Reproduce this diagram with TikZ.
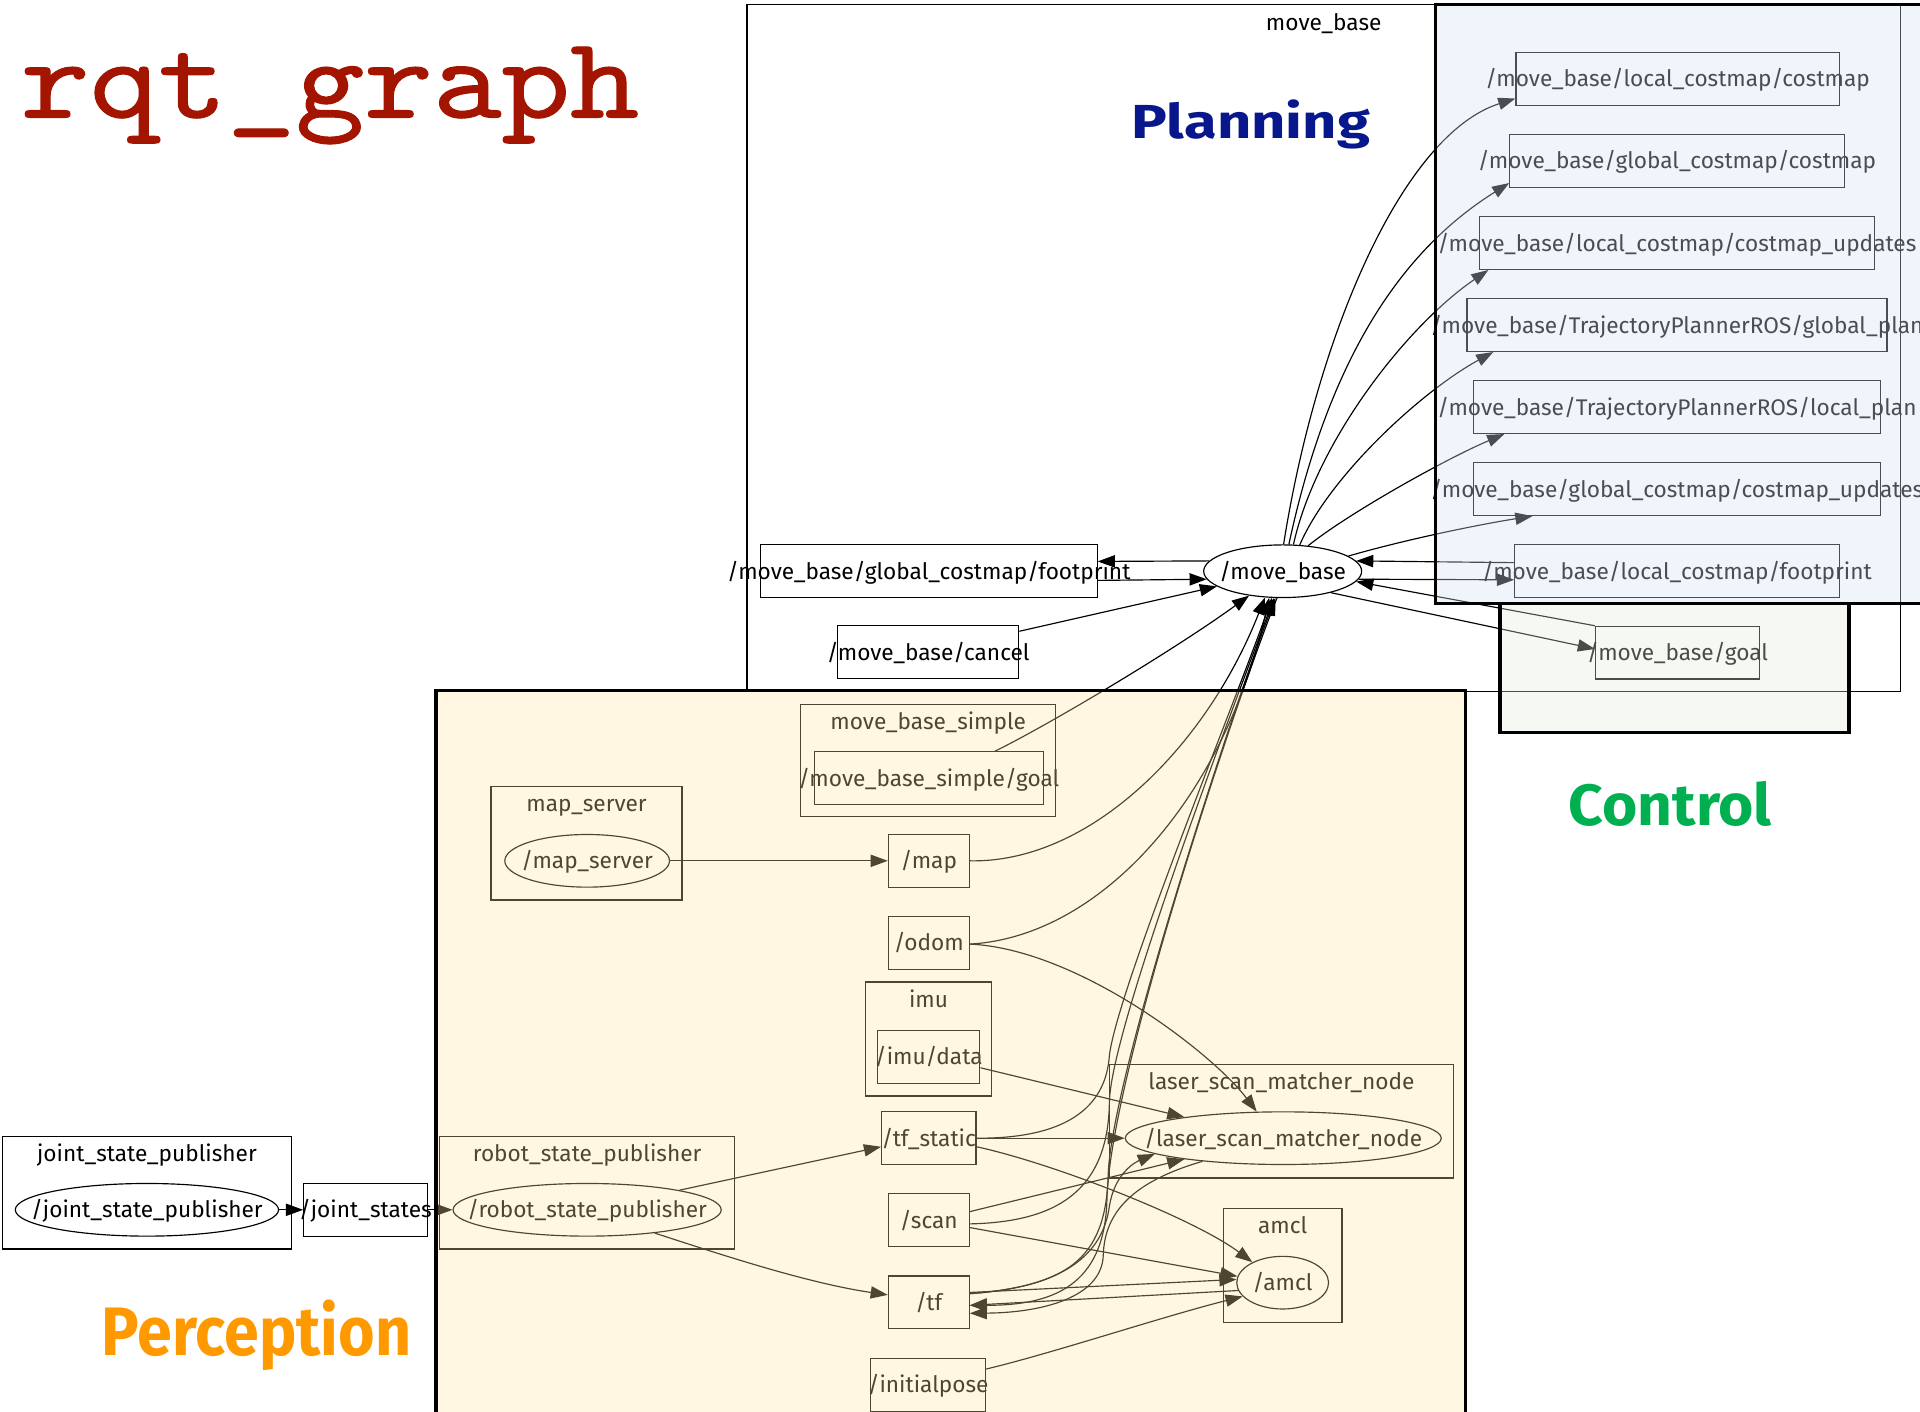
\documentclass[tikz,border=0pt]{standalone}
\usepackage{fontspec}
\usepackage{graphicx}
\setmainfont{Fira Sans}
\newfontfamily\monofont[FakeBold=0.9]{lmmono10-regular.otf}
\usetikzlibrary{arrows.meta, shapes.geometric, positioning}

\definecolor{rqtred}{RGB}{163,21,0}
\definecolor{planblue}{RGB}{8,24,140}
\definecolor{ctrlgreen}{RGB}{0,176,80}
\definecolor{percorange}{RGB}{255,153,0}
\definecolor{percfill}{RGB}{255,228,160}
\definecolor{planfill}{RGB}{210,225,240}
\definecolor{ctrlfill}{RGB}{227,236,218}

\tikzset{
    graphtext/.style={font=\fontsize{18.5}{18.5}\selectfont, text height=16pt, text depth=3pt},
    topic/.style={graphtext, draw, rectangle, line width=0.95pt, inner xsep=-60pt, inner ysep=0pt, minimum height=43pt},
    rosnode/.style={graphtext, draw, ellipse, line width=0.95pt, inner xsep=-60pt, inner ysep=-20pt, minimum height=43pt},
    cluster/.style={draw, rectangle, line width=0.95pt, inner sep=0pt},
    clustername/.style={graphtext, inner sep=0pt},
    rosedge/.style={-{Triangle[length=14pt,width=10pt]}, line width=0.95pt},
    zone/.style={draw=black, line width=2.6pt},
    bigword/.style={font=\bfseries\fontsize{#1}{#1}\selectfont, inner sep=0pt, anchor=base west}
}

\begin{document}
\begin{tikzpicture}[x=1pt, y=-1pt]
    \useasboundingbox (0,0) rectangle (1568,1153);

    % headings
    \node[anchor=base west, inner sep=0pt, text=rqtred, font=\monofont\fontsize{94.5}{94.5}\selectfont] (title) at (17,96) {\scalebox{1.13}[1]{rqt\_graph}};
    \node[bigword=39, text=planblue] (planning) at (924,113) {\scalebox{1.25}[1]{Planning}};
    \node[bigword=47.5, text=ctrlgreen] (control) at (1281,674) {\scalebox{1.04}[1]{Control}};
    \node[bigword=56, text=percorange] (perception) at (83,1107) {\scalebox{0.915}[1]{Perception}};

    % clusters
    \node[cluster, minimum width=942pt, minimum height=561pt] (mbcl) at (1081,284.5) {};
    \node[cluster, minimum width=208pt, minimum height=92pt] (simplecl) at (758,621) {};
    \node[cluster, minimum width=156pt, minimum height=93pt] (mapsrvcl) at (479,688.5) {};
    \node[cluster, minimum width=103.5pt, minimum height=93pt] (imucl) at (758.3,848.5) {};
    \node[cluster, minimum width=281pt, minimum height=93pt] (lsmcl) at (1046.5,915.5) {};
    \node[cluster, minimum width=241pt, minimum height=92pt] (rspcl) at (479.5,974) {};
    \node[cluster, minimum width=97pt, minimum height=93pt] (amclcl) at (1047.5,1033.5) {};
    \node[cluster, minimum width=235.6pt, minimum height=92pt] (jspcl) at (120,974) {};
    \node[clustername] at ([yshift=-14.5pt]mbcl.north) {move\_base};
    \node[clustername] at ([yshift=-14.5pt]simplecl.north) {move\_base\_simple};
    \node[clustername] at ([yshift=-14.5pt]mapsrvcl.north) {map\_server};
    \node[clustername] at ([yshift=-14.5pt]imucl.north) {imu};
    \node[clustername] at ([yshift=-14.5pt]lsmcl.north) {laser\_scan\_matcher\_node};
    \node[clustername] at ([yshift=-14.5pt]rspcl.north) {robot\_state\_publisher};
    \node[clustername] at ([yshift=-14.5pt]amclcl.north) {amcl};
    \node[clustername] at ([yshift=-14.5pt]jspcl.north) {joint\_state\_publisher};

    % move_base and its topics
    \node[rosnode, minimum width=129pt] (mb) at (1047.5,466.5) {/move\_base};
    \node[topic, minimum width=275pt] (gfoot) at (758.5,466.5) {/move\_base/global\_costmap/footprint};
    \node[topic, minimum width=148pt] (cancel) at (758,532.5) {/move\_base/cancel};
    \node[topic, minimum width=264pt] (lcost) at (1370,64.5) {/move\_base/local\_costmap/costmap};
    \node[topic, minimum width=273pt] (gcost) at (1369.5,131.5) {/move\_base/global\_costmap/costmap};
    \node[topic, minimum width=323pt] (lcostup) at (1369.5,198.5) {/move\_base/local\_costmap/costmap\_updates};
    \node[topic, minimum width=343pt] (gplan) at (1369.5,265.5) {/move\_base/TrajectoryPlannerROS/global\_plan};
    \node[topic, minimum width=333pt] (lplan) at (1369.5,332.5) {/move\_base/TrajectoryPlannerROS/local\_plan};
    \node[topic, minimum width=333pt] (gcostup) at (1369.5,399.5) {/move\_base/global\_costmap/costmap\_updates};
    \node[topic, minimum width=265pt] (lfoot) at (1369.5,466.5) {/move\_base/local\_costmap/footprint};
    \node[topic, minimum width=134pt] (goal) at (1370,533) {/move\_base/goal};

    % robot side
    \node[topic, minimum width=187pt] (simplegoal) at (758.5,635.5) {/move\_base\_simple/goal};
    \node[rosnode, minimum width=134.5pt] (mapsrv) at (479.5,703) {/map\_server};
    \node[topic, minimum width=66pt] (map) at (758.5,703) {/map};
    \node[topic, minimum width=66pt] (odom) at (758.5,770) {/odom};
    \node[topic, minimum width=83.5pt, minimum height=43.5pt] (imudata) at (758.5,863) {/imu/data};
    \node[rosnode, minimum width=258pt] (lsm) at (1048,929.5) {/laser\_scan\_matcher\_node};
    \node[topic, minimum width=77pt] (tfstatic) at (758.5,929.5) {/tf\_static};
    \node[rosnode, minimum width=219pt] (rsp) at (479.5,988) {/robot\_state\_publisher};
    \node[rosnode, minimum width=215pt] (jsp) at (120,988) {/joint\_state\_publisher};
    \node[topic, minimum width=100.8pt] (jstates) at (298.4,988) {/joint\_states};
    \node[topic, minimum width=66pt] (scan) at (758.5,996.5) {/scan};
    \node[rosnode, minimum width=75pt] (amcl) at (1047.5,1047.5) {/amcl};
    \node[topic, minimum width=66pt] (tf) at (758.5,1063.5) {/tf};
    \node[topic, minimum width=94pt] (initpose) at (758,1131) {/initialpose};

    % move_base in and out
    \draw[rosedge] (mb.172) -- ([yshift=8pt]gfoot.east);
    \draw[rosedge] ([yshift=-7.5pt]gfoot.east) -- (mb.186);
    \draw[rosedge] ([yshift=-5pt]cancel.north east) -- (mb.193);
    \draw[rosedge] ([xshift=54pt]simplegoal.north) .. controls (860,590) and (960,530) .. (mb.216);
    \draw[rosedge] (mb.88) .. controls (1075,275) and (1145,110) .. ([yshift=6pt]lcost.south west);
    \draw[rosedge] (mb.77) .. controls (1090,270) and (1160,195) .. ([yshift=4pt]gcost.south west);
    \draw[rosedge] (mb.68) .. controls (1075,360) and (1150,265) .. ([xshift=8pt]lcostup.south west);
    \draw[rosedge] (mb.57) .. controls (1085,390) and (1160,320) .. ([xshift=22pt]gplan.south west);
    \draw[rosedge] (mb.45) .. controls (1100,420) and (1180,375) .. ([xshift=26pt]lplan.south west);
    \draw[rosedge] (mb.13) .. controls (1150,440) and (1210,428) .. ([xshift=49pt]gcostup.south west);
    \draw[rosedge] ([yshift=7pt]lfoot.west) -- (mb.8);
    \draw[rosedge] (mb.354) -- ([yshift=-7pt]lfoot.west);
    \draw[rosedge] (goal.north west) -- (mb.352);
    \draw[rosedge] (mb.336) -- ([yshift=3pt]goal.west);

    % sensors into move_base
    \draw[rosedge] (map.east) .. controls (890,705) and (985,610) .. (mb.236);
    \draw[rosedge] ([yshift=-1pt]odom.east) .. controls (900,765) and (1000,650) .. (mb.243);
    \draw[rosedge] (tfstatic.east) .. controls (870,930) and (903,905) .. (906,862)
        .. controls (912,810) and (1010,570) .. (mb.248);
    \draw[rosedge] ([yshift=-3pt]scan.east) .. controls (860,998) and (905,975) .. (906,900)
        .. controls (907,840) and (1010,570) .. (mb.252);
    \draw[rosedge] ([yshift=7pt]tf.east) .. controls (870,1050) and (903,1030) .. (905,960)
        .. controls (907,880) and (1010,570) .. (mb.255);
    \draw[rosedge] (mb.258) .. controls (1010,570) and (906,880) .. (904,980)
        .. controls (902,1050) and (860,1066) .. ([yshift=-2.5pt]tf.east);

    % laser scan matcher
    \draw[rosedge] ([yshift=-1pt]odom.east) .. controls (880,775) and (990,860) .. (lsm.135);
    \draw[rosedge] ([yshift=-9pt]imudata.east) -- (lsm.168);
    \draw[rosedge] (tfstatic.east) -- (lsm.west);
    \draw[rosedge] ([yshift=7pt]scan.east) -- (lsm.192);
    \draw[rosedge] ([yshift=7pt]tf.east) .. controls (860,1052) and (900,1030) .. (906,985)
        .. controls (910,960) and (925,950) .. (lsm.187);
    \draw[rosedge] (lsm.196) .. controls (925,965) and (902,990) .. (901,1025)
        .. controls (900,1060) and (850,1072) .. ([yshift=-9pt]tf.east);

    % amcl
    \draw[rosedge] ([yshift=-7pt]tfstatic.east) .. controls (860,950) and (975,995) .. (amcl.146);
    \draw[rosedge] ([yshift=-6pt]scan.east) -- (amcl.172);
    \draw[rosedge] ([yshift=8pt]tf.east) -- (amcl.176);
    \draw[rosedge] (amcl.190) -- ([yshift=-2.5pt]tf.east);
    \draw[rosedge] ([yshift=-9pt]initpose.north east) .. controls (860,1105) and (950,1075) .. (amcl.199);

    % publishers
    \draw[rosedge] (mapsrv.east) -- (map.west);
    \draw[rosedge] (jsp.east) -- (jstates.west);
    \draw[rosedge] (jstates.east) -- (rsp.west);
    \draw[rosedge] (rsp.12) -- ([yshift=-7pt]tfstatic.west);
    \draw[rosedge] (rsp.341) .. controls (590,1025) and (660,1048) .. ([yshift=6pt]tf.west);

    % coloured zones laid over the graph
    \draw[zone, fill=ctrlfill, fill opacity=0.33] (1225,493) rectangle (1510,598);
    \draw[zone, fill=planfill, fill opacity=0.35] (1172,4) rectangle (1590,493);
    \draw[zone, fill=percfill, fill opacity=0.31] (356,564) rectangle (1197,1175);
\end{tikzpicture}
\end{document}
